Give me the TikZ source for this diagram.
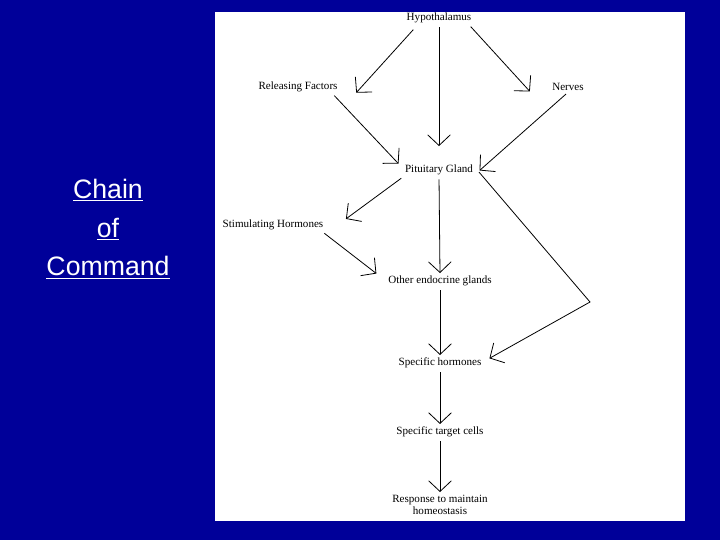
\documentclass[tikz,border=0pt]{standalone}
\usepackage{fontspec}
\setmainfont{Liberation Serif}
\newfontfamily\arialf{Liberation Sans}
\usetikzlibrary{arrows.meta}
\definecolor{bgblue}{RGB}{0,0,153}
\begin{document}
\begin{tikzpicture}[x=0.75pt,y=-0.75pt,
  lab/.style={font=\fontsize{8.3}{9.5}\selectfont, inner sep=1pt, align=center},
  conn/.style={draw=black, line width=0.6pt, -{Straight Barb[length=8pt,width=17pt,line width=0.6pt]}, shorten <=2pt, shorten >=1pt}]
\fill[bgblue] (0,0) rectangle (720,540);
\fill[white] (215,12) rectangle (685,521);
\useasboundingbox (0,0) rectangle (720,540);
\node[font=\arialf\fontsize{20}{29}\selectfont, text=white, align=center] (title) at (108,229) {\underline{Chain}\\ \underline{of}\\ \underline{Command}};
\node[lab] (hyp) at (439,18) {Hypothalamus};
\node[lab] (rf) at (298,87) {Releasing Factors};
\node[lab] (nv) at (568,87) {Nerves};
\node[lab] (pit) at (439,170) {Pituitary Gland};
\node[lab] (sh) at (273,225) {Stimulating Hormones};
\node[lab] (oeg) at (440,281) {Other endocrine glands};
\node[lab] (sph) at (440,363) {Specific hormones};
\node[lab] (stc) at (440,432) {Specific target cells};
\node[lab] (resp) at (440,505) {Response to maintain\\homeostasis};
\coordinate (bend) at (590,302);
\draw[conn] (hyp.south west) ++(10,3) coordinate (a1) -- ([xshift=43pt,yshift=-10pt]rf.north) coordinate (a1e);
\draw[conn] (hyp.south) -- ([yshift=12pt]pit.north);
\draw[conn] ([xshift=-3pt]hyp.south east) -- ([xshift=-15pt,yshift=-8pt]nv.north west);
\draw[conn] ([xshift=-5pt]rf.south east) -- ([xshift=-3pt,yshift=-1pt]pit.north west);
\draw[conn] (nv.south) -- ([xshift=3pt,yshift=-6pt]pit.north east);
\draw[conn] (pit.south west) -- ([xshift=15pt,yshift=-1pt]sh.north east);
\draw[conn] (pit.south) -- (oeg.north);
\draw[conn] ([xshift=-2pt]sh.south east) -- ([xshift=-7pt]oeg.north west);
\draw[conn] ([xshift=2pt]pit.east) -- (bend) -- ([xshift=4pt,yshift=-2pt]sph.north east);
\draw[conn] (oeg.south) -- (sph.north);
\draw[conn] (sph.south) -- (stc.north);
\draw[conn] (stc.south) -- (resp.north);
\end{tikzpicture}
\end{document}
